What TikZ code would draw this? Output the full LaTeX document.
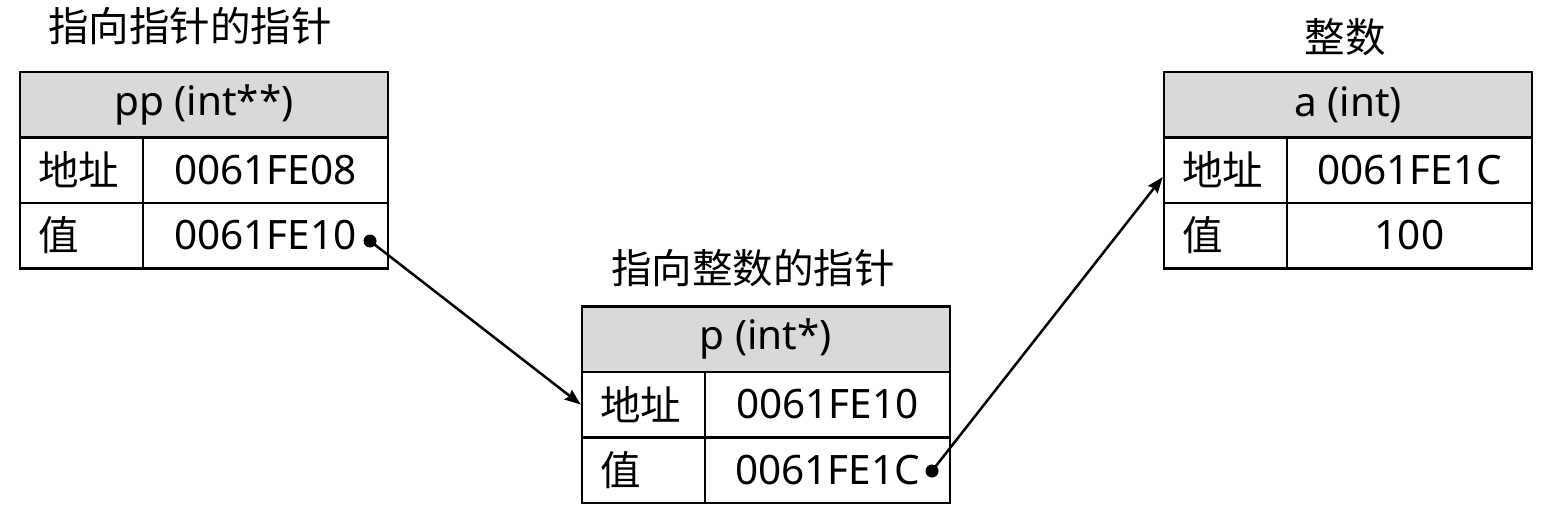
\documentclass[tikz,border=0pt]{standalone}
\usepackage{fontspec}
\setmainfont{Noto Sans}
\newfontfamily\cjk{Noto Sans CJK SC}
\usetikzlibrary{arrows.meta}
\definecolor{headgray}{HTML}{D9D9D9}
\newcommand{\fs}{\fontsize{40.5}{46}\selectfont}
\tikzset{
  cell/.style={draw, line width=2.5pt, inner sep=0pt, minimum height=65.5pt, font=\fs},
  headcell/.style={cell, fill=headgray, minimum width=368pt},
  labcell/.style={cell, inner xsep=18pt, text width=87pt, align=left, font=\fs\cjk},
  valcell/.style={cell, minimum width=245pt},
  titletext/.style={inner sep=0pt, font=\fs\cjk},
  conn/.style={line width=2.5pt, -{Stealth[length=16pt, width=12pt, inset=2pt]}},
  dotmark/.style={fill=black}
}
\begin{document}
\begin{tikzpicture}[x=1pt,y=-1pt]
\useasboundingbox (0,0) rectangle (1551,515);
% table pp
\node[titletext] (t1) at (190,26) {指向指针的指针};
\node[headcell] (pph) at (204,104.5) {pp (int**)};
\node[labcell] (ppal) at (81.5,170) {地址};
\node[valcell] (ppav) at (265.5,170) {0061FE08};
\node[labcell] (ppvl) at (81.5,235.5) {值};
\node[valcell] (ppvv) at (265.5,235.5) {0061FE10};
% table p
\node[titletext] (t2) at (753,268) {指向整数的指针};
\node[headcell] (ph) at (766,339) {p (int*)};
\node[labcell] (pal) at (643.5,404.5) {地址};
\node[valcell] (pav) at (827.5,404.5) {0061FE10};
\node[labcell] (pvl) at (643.5,470) {值};
\node[valcell] (pvv) at (827.5,470) {0061FE1C};
% table a
\node[titletext] (t3) at (1345,37) {整数};
\node[headcell] (ah) at (1348,104.5) {a (int)};
\node[labcell] (aal) at (1225.5,170) {地址};
\node[valcell] (aav) at (1409.5,170) {0061FE1C};
\node[labcell] (avl) at (1225.5,235.5) {值};
\node[valcell] (avv) at (1409.5,235.5) {100};
% pointers
\coordinate (d1) at (370,241);
\coordinate (d2) at (932,471);
\coordinate (a1) at ([yshift=-7pt]aal.west);
\fill[dotmark] (d1) circle (6.5pt);
\fill[dotmark] (d2) circle (6.5pt);
\draw[conn] (d1) -- (pal.west);
\draw[conn] (d2) -- (a1);
\end{tikzpicture}
\end{document}
